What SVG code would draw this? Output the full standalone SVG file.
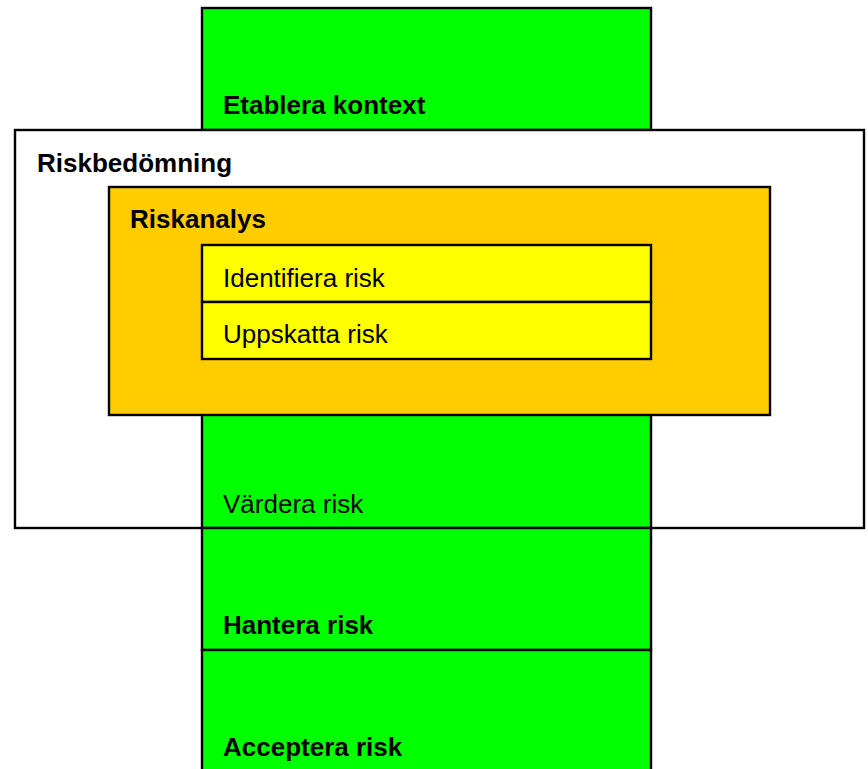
<svg xmlns="http://www.w3.org/2000/svg" width="868" height="769" viewBox="0 0 868 769">
<style>
.box{stroke:#000;stroke-width:2.4}
.green{fill:#00ff00}
.white{fill:#ffffff}
.orange{fill:#ffcc00}
.yellow{fill:#ffff00}
text{font-family:"Liberation Sans",Arial,sans-serif;font-size:26px;fill:#000}
.b{font-weight:bold}
</style>
<rect width="868" height="769" fill="#ffffff"/>
<g id="etablera-kontext">
<rect class="box green" x="202" y="8" width="449" height="122"/>
<text class="b" x="223" y="114">Etablera kontext</text>
</g>
<g id="riskbedomning">
<rect class="box white" x="15" y="130" width="849" height="398"/>
<text class="b" x="37" y="172">Riskbedömning</text>
</g>
<g id="vardera-risk">
<rect class="box green" x="202" y="400" width="449" height="128"/>
<text x="223" y="513">Värdera risk</text>
</g>
<g id="hantera-risk">
<rect class="box green" x="202" y="528" width="449" height="122"/>
<text class="b" x="223" y="634">Hantera risk</text>
</g>
<g id="acceptera-risk">
<rect class="box green" x="202" y="650" width="449" height="130"/>
<text class="b" x="223" y="756">Acceptera risk</text>
</g>
<g id="riskanalys">
<rect class="box orange" x="109" y="187" width="661" height="228"/>
<text class="b" x="130" y="228">Riskanalys</text>
</g>
<g id="identifiera-risk">
<rect class="box yellow" x="202" y="245" width="449" height="57"/>
<text x="223" y="287">Identifiera risk</text>
</g>
<g id="uppskatta-risk">
<rect class="box yellow" x="202" y="302" width="449" height="57"/>
<text x="223" y="343">Uppskatta risk</text>
</g>
<g id="connectors"></g>
</svg>
